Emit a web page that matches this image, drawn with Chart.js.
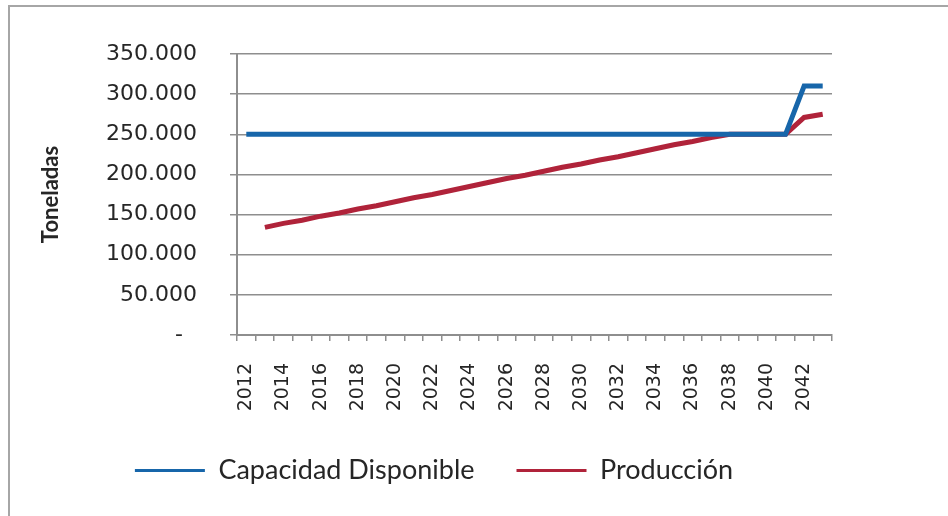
<!DOCTYPE html>
<html>
<head>
<meta charset="utf-8">
<script src="https://cdn.jsdelivr.net/npm/chart.js@4.4.0/dist/chart.umd.min.js"></script>
<style>
    html, body { margin: 0; padding: 0; background: #fff; }
    #wrap { position: relative; width: 948px; height: 516px; }
    #frame { position: absolute; left: 8px; top: 5px; right: 0; bottom: 0; border-top: 2px solid #a6a6a6; border-left: 2px solid #a6a6a6; }
    #chart { position: absolute; left: 0; top: 0; }
</style>
</head>
<body>
<div id="wrap">
    <div id="frame"></div>
    <canvas id="chart" width="948" height="516"></canvas>
</div>
<script>
    const years = [];
    for (let y = 2012; y <= 2043; y++) years.push(String(y));

    // toneladas por año
    const capacidad = [
        250000, 250000, 250000, 250000, 250000, 250000, 250000, 250000,
        250000, 250000, 250000, 250000, 250000, 250000, 250000, 250000,
        250000, 250000, 250000, 250000, 250000, 250000, 250000, 250000,
        250000, 250000, 250000, 250000, 250000, 250000, 310000, 310000
    ];
    const produccion = [
        null, 134000, 139000, 143000, 148000, 152000, 157000, 161000,
        166000, 171000, 175000, 180000, 185000, 190000, 195000, 199000,
        204000, 209000, 213000, 218000, 222000, 227000, 232000, 237000,
        241000, 246000, 250000, 250000, 250000, 250000, 271000, 275000
    ];
    const yTicks = [0, 50000, 100000, 150000, 200000, 250000, 300000, 350000];

    const axisGray = '#8e8e8e';
    const textColor = '#262626';

    // formato contable: miles con punto, cero como guion
    const fmtMiles = (v) => v === 0 ? '-  ' : v.toLocaleString('de-DE');

    new Chart(document.getElementById('chart'), {
        type: 'line',
        data: {
            labels: years,
            datasets: [
                {
                    label: 'Capacidad Disponible',
                    data: capacidad,
                    borderColor: '#1766aa',
                    backgroundColor: '#1766aa',
                    borderWidth: 5,
                    pointRadius: 0,
                    tension: 0
                },
                {
                    label: 'Producción',
                    data: produccion,
                    borderColor: '#b0233a',
                    backgroundColor: '#b0233a',
                    borderWidth: 5,
                    pointRadius: 0,
                    tension: 0
                }
            ]
        },
        options: {
            responsive: false,
            animation: false,
            layout: { padding: { left: 36, top: 54, right: 116, bottom: 22 } },
            plugins: {
                tooltip: { enabled: false },
                legend: {
                    position: 'bottom',
                    labels: {
                        usePointStyle: true,
                        pointStyle: 'line',
                        pointStyleWidth: 70,
                        padding: 42,
                        color: textColor,
                        font: { family: 'Lato', size: 27 },
                        generateLabels(chart) {
                            const items = Chart.defaults.plugins.legend.labels.generateLabels(chart);
                            items.forEach(it => { it.lineWidth = 3; });
                            return items;
                        }
                    }
                }
            },
            scales: {
                x: {
                    offset: true,
                    grid: { offset: true, drawOnChartArea: false, drawTicks: true, tickLength: 6, color: axisGray, lineWidth: 1.5 },
                    border: { color: axisGray, width: 2 },
                    ticks: {
                        autoSkip: false,
                        minRotation: 90,
                        maxRotation: 90,
                        padding: 22,
                        color: textColor,
                        font: { family: 'DejaVu Sans', size: 19 },
                        callback: (v, i) => i % 2 === 0 ? years[i] : ''
                    },
                    afterFit: (scale) => { scale.height = 80; }
                },
                y: {
                    min: 0,
                    max: 350000,
                    afterBuildTicks: (scale) => { scale.ticks = yTicks.map(v => ({ value: v })); },
                    grid: { color: axisGray, lineWidth: 1.5, tickLength: 7 },
                    border: { color: axisGray, width: 2 },
                    ticks: {
                        padding: 33,
                        color: textColor,
                        font: { family: 'DejaVu Sans', size: 22 },
                        callback: (v) => fmtMiles(v)
                    },
                    title: {
                        display: true,
                        text: 'Toneladas',
                        color: textColor,
                        padding: { top: 2, bottom: 0 },
                        font: { family: 'Lato', size: 22, weight: 'bold' }
                    },
                    afterFit: (scale) => { scale.width = 201; }
                }
            }
        }
    });
</script>
</body>
</html>
